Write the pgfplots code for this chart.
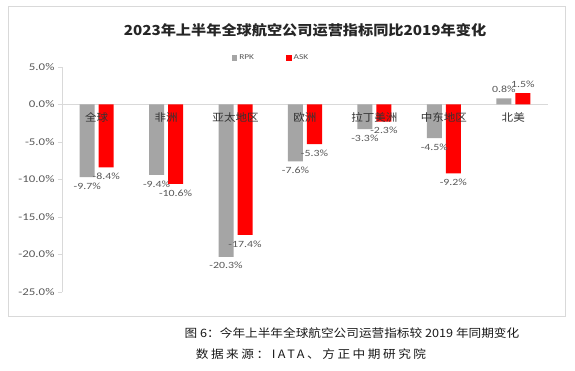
\documentclass[border=0pt]{standalone}
\usepackage{pgfplots}
\pgfplotsset{compat=1.18}
\usepackage{fontspec}
\setmainfont{Carlito}[FakeStretch=1.25]
\newfontfamily\cjk{Noto Sans CJK SC}[FakeStretch=1.1]
\newfontfamily\cjkspaced{Noto Sans CJK SC}[FakeStretch=1.1, LetterSpace=22]
\definecolor{rpk}{RGB}{165,165,165}
\definecolor{ask}{RGB}{255,0,0}
\definecolor{lbl}{RGB}{89,89,89}
\definecolor{axisgray}{RGB}{217,217,217}
\begin{document}
\begin{tikzpicture}[x=1pt,y=1pt]
\useasboundingbox (0,0) rectangle (575,-371);
\fill[white] (0,0) rectangle (575,-371);
\draw[axisgray, line width=0.8pt] (8,-6) rectangle (565,-316);
\begin{axis}[
  at={(62pt,-292pt)}, anchor=south west, scale only axis,
  width=486pt, height=225pt,
  ymin=-25, ymax=5, xmin=-0.5, xmax=6.5,
  ybar=4pt, bar width=15pt,
  axis y line*=left, axis x line=none,
  axis line style={axisgray, line width=0.8pt},
  xtick=\empty,
  ytick={-25,-20,-15,-10,-5,0,5},
  extra y ticks={0}, extra y tick labels={},
  extra y tick style={grid=major, major grid style={axisgray, line width=0.8pt}, major tick length=0pt},
  /pgf/number format/assume math mode=true,
  yticklabel={\pgfmathprintnumber[fixed,fixed zerofill,precision=1]{\tick}\%},
  y tick label style={font=\fontsize{10.3}{12}\selectfont, text=lbl},
  y tick style={axisgray, line width=0.8pt},
  tick align=outside, major tick length=4pt,
  clip=false,
  nodes near coords={\pgfmathprintnumber[fixed,fixed zerofill,precision=1]{\pgfplotspointmeta}\%},
  nodes near coords style={font=\fontsize{9.5}{11}\selectfont, text=lbl, inner ysep=5.5pt},
  nodes near coords align=vertical,
  legend style={at={(0.43,1.04)}, anchor=center, draw=none, fill=none,
    legend columns=2, font=\fontsize{7.5}{9}\selectfont, text=lbl,
    /tikz/every even column/.append style={column sep=30pt}},
  legend image code/.code={\fill[#1] (0pt,-2.8pt) rectangle (5.5pt,2.8pt);},
]
\addplot[fill=rpk, draw=none] coordinates {(0,-9.7) (1,-9.4) (2,-20.3) (3,-7.6) (4,-3.3) (5,-4.5) (6,0.8)};
\addplot[fill=ask, draw=none] coordinates {(0,-8.4) (1,-10.6) (2,-17.4) (3,-5.3) (4,-2.3) (5,-9.2) (6,1.5)};
\legend{RPK,ASK}
\tikzset{cat/.style={font=\cjk\fontsize{10.5}{12}\selectfont, text=black!80, anchor=center}}
\node[cat] at (axis cs:0,-1.7) {全球};
\node[cat] at (axis cs:1,-1.7) {非洲};
\node[cat] at (axis cs:2,-1.7) {亚太地区};
\node[cat] at (axis cs:3,-1.7) {欧洲};
\node[cat] at (axis cs:4,-1.7) {拉丁美洲};
\node[cat] at (axis cs:5,-1.7) {中东地区};
\node[cat] at (axis cs:6,-1.7) {北美};
\end{axis}
\node[font=\cjk\bfseries\fontsize{13.8}{16}\selectfont, text=black!85] at (305pt,-30pt) {2023年上半年全球航空公司运营指标同比2019年变化};
\node[font=\cjk\fontsize{11.5}{14}\selectfont, text=black!90] at (352pt,-333pt) {图 6：今年上半年全球航空公司运营指标较 2019 年同期变化};
\node[font=\cjkspaced\fontsize{11.5}{14}\selectfont, text=black!90] at (311pt,-354pt) {数据来源：IATA、方正中期研究院};
\end{tikzpicture}
\end{document}
